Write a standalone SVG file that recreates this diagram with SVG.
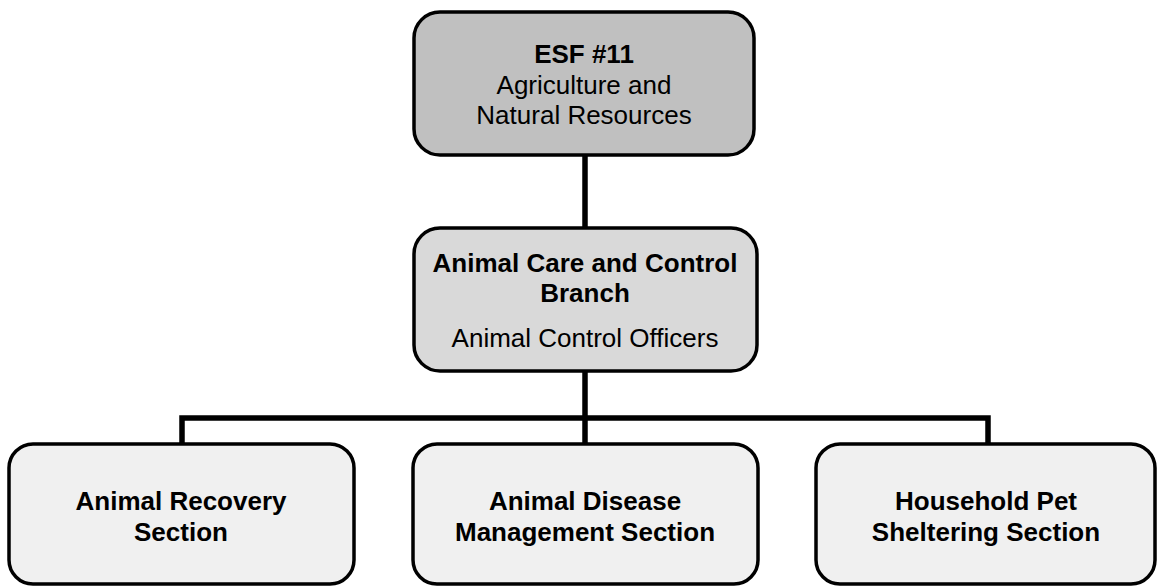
<svg xmlns="http://www.w3.org/2000/svg" width="1159" height="587" viewBox="0 0 1159 587">
<style>
.box{stroke:#000;stroke-width:3.5}
.top{fill:#c0c0c0}
.mid{fill:#d9d9d9}
.bot{fill:#f0f0f0}
.t{font-family:"Liberation Sans",Arial,sans-serif;font-size:26px;fill:#000;text-anchor:middle}
.b{font-weight:bold}
.conn{stroke:#000;stroke-width:5.5;fill:none}
</style>
<rect width="1159" height="587" fill="#fff"/>
<g id="connectors">
<line class="conn" x1="585" y1="156" x2="585" y2="228"/>
<line class="conn" x1="585" y1="372" x2="585" y2="443"/>
<polyline class="conn" points="182,443 182,418 988,418 988,443"/>
</g>
<g id="esf11">
<rect class="box top" x="414" y="12" width="340" height="143" rx="26"/>
<text class="t b" x="584" y="63">ESF #11</text>
<text class="t" x="584" y="94">Agriculture and</text>
<text class="t" x="584" y="124">Natural Resources</text>
</g>
<g id="branch">
<rect class="box mid" x="414" y="228" width="343" height="143" rx="26"/>
<text class="t b" x="585" y="272">Animal Care and Control</text>
<text class="t b" x="585" y="302">Branch</text>
<text class="t" x="585" y="347">Animal Control Officers</text>
</g>
<g id="recovery">
<rect class="box bot" x="9" y="444" width="345" height="140" rx="24"/>
<text class="t b" x="181" y="510">Animal Recovery</text>
<text class="t b" x="181" y="541">Section</text>
</g>
<g id="disease">
<rect class="box bot" x="413" y="444" width="345" height="140" rx="24"/>
<text class="t b" x="585" y="510">Animal Disease</text>
<text class="t b" x="585" y="541">Management Section</text>
</g>
<g id="shelter">
<rect class="box bot" x="816" y="444" width="339" height="140" rx="24"/>
<text class="t b" x="986" y="510">Household Pet</text>
<text class="t b" x="986" y="541">Sheltering Section</text>
</g>
</svg>
